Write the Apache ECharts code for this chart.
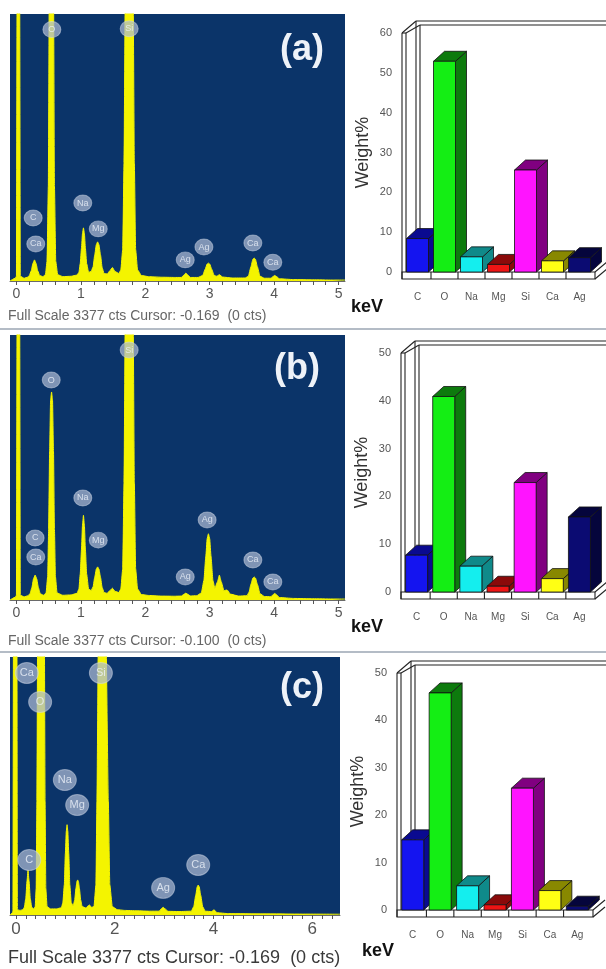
<!DOCTYPE html>
<html>
<head>
<meta charset="utf-8">
<script src="https://cdn.jsdelivr.net/npm/echarts@6/dist/echarts.min.js"></script>
<style>
html, body { margin: 0; padding: 0; background: #fff; }
#chart { width: 606px; height: 969px; }
</style>
</head>
<body>
<div id="chart"></div>
<script>
// EDS spectra (a)(b)(c) + weight% bar charts
const FONT = 'Arial, "Liberation Sans", Helvetica, sans-serif';

const elements = ['C', 'O', 'Na', 'Mg', 'Si', 'Ca', 'Ag'];
const weightA = [8.4, 52.9, 3.8, 1.9, 25.6, 2.8, 3.6];
const weightB = [7.7, 40.9, 5.4, 1.2, 22.9, 2.8, 15.7];
const weightC = [14.8, 45.8, 5.1, 1.1, 25.7, 4.1, 0.8];
const weightMax = [60, 50, 50];

const fullScale = 3377;
const cursors = ['-0.169', '-0.100', '-0.169'];
const panelNames = ['(a)', '(b)', '(c)'];
const kevLabelsAB = [0, 1, 2, 3, 4, 5];
const kevLabelsC = [0, 2, 4, 6];

// spectrum traces: [keV, counts]
const spectrumA = [
  [-0.10, 0], [-0.02, 35], [0.00, 60], [0.01, 3800], [0.05, 3800], [0.06, 60], [0.12, 35], [0.18, 50],
  [0.20, 70], [0.23, 130], [0.255, 220], [0.28, 267], [0.305, 220], [0.33, 130], [0.36, 70], [0.41, 55],
  [0.45, 80], [0.475, 250], [0.495, 1200], [0.51, 3800], [0.575, 3800], [0.59, 1200], [0.61, 250], [0.64, 80],
  [0.72, 55], [0.85, 60], [0.94, 75],
  [0.97, 110], [0.99, 220], [1.01, 420], [1.025, 600], [1.04, 672], [1.055, 600], [1.07, 420], [1.09, 220], [1.12, 110],
  [1.16, 120], [1.19, 180], [1.215, 330], [1.24, 460], [1.26, 495], [1.28, 460], [1.305, 330], [1.33, 170], [1.36, 95],
  [1.41, 90], [1.45, 130], [1.49, 170], [1.53, 120], [1.59, 95],
  [1.62, 140], [1.65, 400], [1.67, 1500], [1.69, 3800], [1.81, 3800], [1.83, 1500], [1.85, 400], [1.88, 140], [1.94, 70],
  [2.05, 55], [2.25, 48], [2.45, 45], [2.56, 45], [2.60, 75], [2.63, 100], [2.66, 75], [2.70, 45], [2.82, 45],
  [2.89, 70], [2.93, 150], [2.96, 215], [2.98, 226], [3.00, 215], [3.03, 150], [3.07, 70], [3.11, 60], [3.15, 80],
  [3.20, 50], [3.35, 38], [3.55, 38], [3.60, 60], [3.64, 180], [3.67, 275], [3.69, 290], [3.71, 275], [3.74, 180],
  [3.78, 60], [3.85, 35], [3.95, 35], [3.98, 55], [4.01, 70], [4.04, 55], [4.08, 28],
  [4.3, 18], [4.6, 15], [4.9, 12], [5.1, 12]
];
const spectrumB = [
  [-0.10, 0], [-0.02, 35], [0.00, 60], [0.01, 3800], [0.05, 3800], [0.06, 60], [0.12, 40], [0.18, 55],
  [0.21, 80], [0.24, 160], [0.265, 270], [0.29, 317], [0.315, 270], [0.34, 160], [0.37, 80], [0.42, 60],
  [0.46, 90], [0.485, 300], [0.50, 900], [0.515, 1900], [0.53, 2550], [0.545, 2651], [0.56, 2550], [0.575, 1900],
  [0.59, 900], [0.605, 300], [0.63, 90],
  [0.72, 60], [0.85, 65], [0.94, 85],
  [0.97, 140], [0.99, 330], [1.01, 650], [1.025, 950], [1.04, 1080], [1.055, 950], [1.07, 650], [1.09, 330], [1.12, 140],
  [1.16, 120], [1.19, 170], [1.215, 290], [1.24, 395], [1.26, 422], [1.28, 395], [1.305, 290], [1.33, 160], [1.36, 95],
  [1.41, 85], [1.45, 120], [1.49, 150], [1.53, 110], [1.59, 95],
  [1.62, 140], [1.65, 400], [1.67, 1500], [1.69, 3800], [1.81, 3800], [1.83, 1500], [1.85, 400], [1.88, 140], [1.94, 70],
  [2.05, 58], [2.25, 50], [2.45, 48], [2.56, 50], [2.60, 72], [2.63, 88], [2.66, 72], [2.70, 52], [2.80, 55],
  [2.87, 90], [2.91, 250], [2.94, 560], [2.96, 780], [2.98, 844], [3.00, 780], [3.02, 560], [3.05, 250], [3.08, 150],
  [3.12, 230], [3.15, 317], [3.18, 230], [3.22, 120], [3.27, 128], [3.32, 75],
  [3.45, 50], [3.58, 55], [3.61, 100], [3.64, 200], [3.67, 280], [3.69, 294], [3.71, 280], [3.74, 200], [3.78, 80],
  [3.85, 45], [3.95, 42], [3.98, 65], [4.01, 84], [4.04, 65], [4.08, 32],
  [4.3, 20], [4.6, 16], [4.9, 13], [5.1, 12]
];
const spectrumC = [
  [-0.12, 0], [-0.07, 30], [-0.06, 60], [-0.05, 3800], [0.02, 3800], [0.03, 70], [0.08, 60], [0.14, 70],
  [0.17, 100], [0.20, 220], [0.225, 450], [0.245, 588], [0.265, 450], [0.29, 220], [0.32, 100], [0.36, 80],
  [0.39, 110], [0.41, 350], [0.425, 1500], [0.44, 3800], [0.575, 3800], [0.59, 1500], [0.605, 350], [0.63, 110],
  [0.70, 80], [0.82, 80], [0.92, 95],
  [0.95, 160], [0.98, 400], [1.00, 800], [1.02, 1100], [1.035, 1182], [1.05, 1100], [1.07, 800], [1.09, 400], [1.12, 160],
  [1.16, 120], [1.19, 200], [1.215, 350], [1.235, 440], [1.25, 459], [1.265, 440], [1.285, 350], [1.31, 200], [1.34, 110],
  [1.42, 90], [1.46, 120], [1.49, 131], [1.53, 100], [1.58, 110],
  [1.62, 400], [1.64, 1500], [1.67, 3800], [1.82, 3800], [1.87, 1500], [1.90, 400], [1.95, 110],
  [2.05, 70], [2.20, 60], [2.45, 55], [2.70, 50], [2.90, 50], [2.94, 80], [2.98, 101], [3.02, 80], [3.08, 48],
  [3.30, 45], [3.55, 50], [3.60, 110], [3.64, 260], [3.67, 370], [3.69, 392], [3.71, 370], [3.74, 260], [3.78, 110],
  [3.83, 50], [3.96, 45], [4.01, 68], [4.07, 30],
  [4.3, 18], [5.0, 15], [5.8, 12], [6.56, 10]
];

// peak labels: [element, keV, counts of the label centre]
const peakLabelsA = [['O', 0.55, 3180], ['Si', 1.75, 3190], ['C', 0.26, 797], ['Ca', 0.30, 469], ['Na', 1.03, 986],
  ['Mg', 1.27, 659], ['Ag', 2.62, 267], ['Ag', 2.91, 429], ['Ca', 3.67, 480], ['Ca', 3.98, 236]];
const peakLabelsB = [['O', 0.54, 2803], ['Si', 1.75, 3185], ['C', 0.29, 790], ['Ca', 0.30, 547], ['Na', 1.03, 1300],
  ['Mg', 1.27, 763], ['Ag', 2.62, 294], ['Ag', 2.96, 1020], ['Ca', 3.67, 510], ['Ca', 3.98, 230]];
const peakLabelsC = [['Ca', 0.22, 3168], ['O', 0.49, 2789], ['Si', 1.72, 3168], ['Na', 0.99, 1766],
  ['Mg', 1.24, 1439], ['C', 0.27, 719], ['Ag', 2.98, 355], ['Ca', 3.69, 655]];

const frontColors = ['#1414f0', '#14ee14', '#14eeee', '#ee1414', '#ff14ff', '#ffff14', '#0b0b72'];
const sideColors = ['#0a0a90', '#0d7a0d', '#0f8a8a', '#8a0a0a', '#800080', '#888800', '#05053c'];

const chart = echarts.init(document.getElementById('chart'));

const spectra = [spectrumA, spectrumB, spectrumC];
const peakLabels = [peakLabelsA, peakLabelsB, peakLabelsC];
const weights = [weightA, weightB, weightC];

const specGrids = [
  { left: 10, top: 14, width: 335, height: 267 },
  { left: 10, top: 335, width: 335, height: 265 },
  { left: 10, top: 657, width: 330, height: 258 }
];
const barGrids = [
  { left: 404, top: 33, width: 189, height: 239 },
  { left: 403, top: 353, width: 190, height: 239 },
  { left: 399, top: 673, width: 192, height: 237 }
];
const kevRange = [[-0.1, 5.1], [-0.1, 5.1], [-0.12, 6.56]];

function kevAxis(gi, i) {
  const minor = [];
  for (let t = 0; t <= kevRange[i][1] + 1e-9; t += 0.2) minor.push(+t.toFixed(1));
  return {
    type: 'value', gridIndex: gi, min: kevRange[i][0], max: kevRange[i][1],
    axisLine: { show: true, onZero: false, lineStyle: { color: '#6a6a6a', width: 1 } },
    axisTick: { show: true, customValues: minor, length: 4, lineStyle: { color: '#555' } },
    axisLabel: {
      customValues: i === 2 ? kevLabelsC : kevLabelsAB,
      fontSize: i === 2 ? 17 : 14, color: '#555', margin: 6, fontFamily: FONT
    },
    splitLine: { show: false }
  };
}

function frameItem(yMax) {
  return function (params, api) {
    const p0 = api.coord([0, 0]);
    const band = api.size([1, 0])[0];
    const xL = p0[0] - band / 2, xR = xL + band * elements.length;
    const yB = p0[1], yT = api.coord([0, yMax])[1];
    const st = { stroke: '#222', lineWidth: 1.1, fill: null };
    const line = (x1, y1, x2, y2) => ({ type: 'line', shape: { x1, y1, x2, y2 }, style: st });
    const kids = [
      { type: 'rect', shape: { x: xL - 2, y: yB, width: xR - xL + 4, height: 7 }, style: { fill: '#fff', stroke: '#222', lineWidth: 1.1 } },
      line(xL + 12, yT - 12, xR + 40, yT - 12), line(xL + 16, yT - 8, xR + 40, yT - 8),
      line(xL + 12, yT - 12, xL + 12, yB), line(xL + 16, yT - 8, xL + 16, yB),
      line(xL - 2, yT, xL + 12, yT - 12), line(xL + 2, yT, xL + 16, yT - 8), line(xL - 2, yT, xL + 2, yT),
      line(xL - 2, yT, xL - 2, yB + 7), line(xL + 2, yT, xL + 2, yB),
      line(xR + 2, yB + 7, xR + 14, yB - 3), line(xR + 2, yB, xR + 14, yB - 10)
    ];
    for (let k = 1; k < elements.length; k++) kids.push(line(xL + k * band, yB, xL + k * band, yB + 7));
    return { type: 'group', children: kids };
  };
}

function barItem(params, api) {
  const i = params.dataIndex;
  const base = api.coord([api.value(0), 0]), top = api.coord([api.value(0), api.value(1)]);
  const w = 22, dx = 11, dy = 10;
  const x0 = base[0] - w / 2, x1 = x0 + w, yb = base[1], yt = top[1];
  const st = c => ({ fill: c, stroke: '#111', lineWidth: 0.8 });
  return {
    type: 'group', children: [
      { type: 'polygon', shape: { points: [[x1, yb], [x1, yt], [x1 + dx, yt - dy], [x1 + dx, yb - dy]] }, style: st(sideColors[i]) },
      { type: 'polygon', shape: { points: [[x0, yt], [x0 + dx, yt - dy], [x1 + dx, yt - dy], [x1, yt]] }, style: st(sideColors[i]) },
      { type: 'rect', shape: { x: x0, y: yt, width: w, height: yb - yt }, style: st(frontColors[i]) }
    ]
  };
}

const grid = [], xAxis = [], yAxis = [], series = [];
for (let i = 0; i < 3; i++) {
  grid.push(Object.assign({ show: true, backgroundColor: '#0b3469', borderWidth: 0 }, specGrids[i]));
  xAxis.push(kevAxis(i, i));
  yAxis.push({ type: 'value', gridIndex: i, min: 0, max: fullScale, show: false });
  series.push({
    type: 'line', xAxisIndex: i, yAxisIndex: i, data: spectra[i], symbol: 'none',
    smooth: 0.15, smoothMonotone: 'x', clip: true,
    lineStyle: { color: '#f4f400', width: 1 }, areaStyle: { color: '#f4f400', opacity: 1 }, z: 2
  });
  const big = i === 2;
  series.push({
    type: 'scatter', xAxisIndex: i, yAxisIndex: i, z: 3,
    data: peakLabels[i].map(d => ({ name: d[0], value: [d[1], d[2]] })),
    symbol: 'circle', symbolSize: big ? [23, 21] : [18, 16],
    itemStyle: { color: 'rgba(172,186,210,0.9)', borderColor: 'rgba(215,222,235,0.6)', borderWidth: 1 },
    label: { show: true, position: 'inside', formatter: '{b}', color: '#eef2fa', fontSize: big ? 11 : 9, fontFamily: FONT },
    emphasis: { disabled: true }
  });
}
for (let i = 0; i < 3; i++) {
  const gi = 3 + i;
  grid.push(barGrids[i]);
  xAxis.push({
    type: 'category', gridIndex: gi, data: elements,
    axisLine: { show: false }, axisTick: { show: false },
    axisLabel: { fontSize: 10, color: '#555', margin: 20, fontFamily: FONT }
  });
  yAxis.push({
    type: 'value', gridIndex: gi, min: 0, max: weightMax[i], interval: 10,
    axisLine: { show: false }, axisTick: { show: false }, splitLine: { show: false },
    axisLabel: { fontSize: 11, color: '#555', margin: 12, fontFamily: FONT },
    name: 'Weight%', nameLocation: 'middle', nameRotate: 90, nameGap: 32,
    nameTextStyle: { fontSize: 18, color: '#333', fontFamily: FONT }
  });
  series.push({
    type: 'custom', xAxisIndex: gi, yAxisIndex: gi, z: 1,
    renderItem: frameItem(weightMax[i]), data: [[0, 0]], silent: true
  });
  series.push({
    type: 'custom', xAxisIndex: gi, yAxisIndex: gi, z: 2,
    renderItem: barItem, data: weights[i].map((v, k) => [k, v]),
    encode: { x: 0, y: 1 }
  });
}

const graphic = [];
const titlePos = [[302, 50], [297, 369], [302, 688]];
const fsY = [316, 641, 958];
const kevPos = [[367, 307], [367, 627], [378, 951]];
for (let i = 0; i < 3; i++) {
  graphic.push({
    type: 'text', x: titlePos[i][0], y: titlePos[i][1], z: 10,
    style: { text: panelNames[i], font: 'bold 36px ' + FONT, fill: '#eef2f8', align: 'center', verticalAlign: 'middle' }
  });
  graphic.push({
    type: 'text', x: 8, y: fsY[i], z: 10,
    style: {
      text: 'Full Scale ' + fullScale + ' cts Cursor: ' + cursors[i] + '  (0 cts)',
      font: (i === 2 ? '18px ' : '14px ') + FONT, fill: i === 2 ? '#3a3a3a' : '#666', align: 'left', verticalAlign: 'middle'
    }
  });
  graphic.push({
    type: 'text', x: kevPos[i][0], y: kevPos[i][1], z: 10,
    style: { text: 'keV', font: 'bold 18px ' + FONT, fill: '#111', align: 'center', verticalAlign: 'middle' }
  });
}
[329, 652].forEach(y => graphic.push({
  type: 'line', z: 10, shape: { x1: 0, y1: y, x2: 606, y2: y }, style: { stroke: '#b4bcc6', lineWidth: 2 }
}));

chart.setOption({
  backgroundColor: '#fff',
  animation: false,
  grid, xAxis, yAxis, series, graphic
});
</script>
</body>
</html>
